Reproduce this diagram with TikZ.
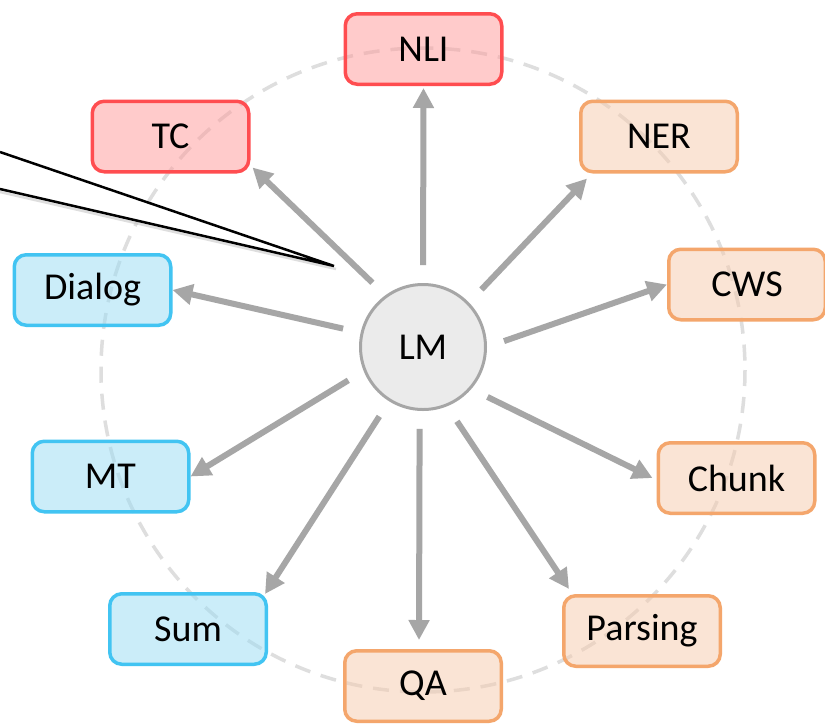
\documentclass[tikz,border=0pt]{standalone}
\usepackage{fontspec}
\setmainfont{Carlito}
\usetikzlibrary{arrows.meta,calc}
\definecolor{redfill}{RGB}{255,153,153}
\definecolor{reddraw}{RGB}{255,77,80}
\definecolor{orfill}{RGB}{247,203,173}
\definecolor{ordraw}{RGB}{244,166,108}
\definecolor{blfill}{RGB}{153,221,245}
\definecolor{bldraw}{RGB}{66,196,242}
\definecolor{arrgray}{RGB}{166,166,166}
\definecolor{lmfill}{RGB}{235,235,235}
\definecolor{ringgray}{RGB}{222,222,222}
\begin{document}
\begin{tikzpicture}[x=1pt,y=-1pt,
  box/.style={draw, line width=3.5pt, rounded corners=12pt, minimum width=156.5pt,
    minimum height=70.5pt, fill opacity=0.5, text opacity=1, inner sep=0pt,
    font=\fontsize{38}{42}\selectfont},
  redbox/.style={box, draw=reddraw, fill=redfill},
  orbox/.style={box, draw=ordraw, fill=orfill},
  blbox/.style={box, draw=bldraw, fill=blfill},
  arr/.style={draw=arrgray, line width=6pt, shorten <=18pt,
    -{Triangle[length=20pt,width=20pt]}, fill=arrgray},
  ring/.style={draw=ringgray, line width=3.5pt, dash pattern=on 16pt off 11pt}
]
\useasboundingbox (0,0) rectangle (825,724);
\fill[white] (0,0) rectangle (825,724);

% dashed ring
\coordinate (ringc) at (423,370);
\draw[ring] (ringc) circle[radius=322];

% task boxes
\node[redbox] (nli) at (423.5,49) {NLI};
\node[redbox] (tc) at (170.5,136.5) {TC};
\node[orbox] (ner) at (659,136.5) {NER};
\node[orbox] (cws) at (747,284.5) {CWS};
\node[orbox] (chunk) at (736.5,478) {Chunk};
\node[orbox] (parsing) at (642,631) {Parsing};
\node[orbox] (qa) at (423,686) {QA};
\node[blbox] (dialog) at (92.5,290) {Dialog};
\node[blbox] (mt) at (110.5,476.5) {MT};
\node[blbox] (sum) at (188,629) {Sum};

% center
\node[circle, draw=arrgray, fill=lmfill, line width=3pt, minimum size=125pt,
  inner sep=0pt, font=\fontsize{38}{42}\selectfont] (lm) at (423,347) {LM};

% arrows
\draw[arr] (lm.90) -- ($(nli.south)+(0,2)$);
\draw[arr] (lm.44) -- ($(ner.south west)+(8,5)$);
\draw[arr] (lm.0) -- (cws.west);
\draw[arr] (lm.-41.6) -- ($(chunk.west)+(-4,0)$);
\draw[arr] (lm.-68) -- ($(parsing.north west)+(7,-5)$);
\draw[arr] (lm.-93) -- ($(qa.north)+(-4,-9)$);
\draw[arr] (lm.-122.7) -- ($(sum.north east)+(-3,2)$);
\draw[arr] (lm.202.3) -- (mt.east);
\draw[arr] (lm.167.3) -- (dialog.east);
\draw[arr] (lm.126.7) -- ($(tc.south east)+(2,-6)$);

% callout
\coordinate (ca) at (0,152);
\coordinate (cb) at (0,189);
\coordinate (tip) at (334,266);
\draw[black!25, line width=2.5pt, opacity=0.5] ($(cb)+(0,3)$) -- ($(tip)+(2,3)$);
\filldraw[fill=white, draw=black, line width=2.5pt, line join=miter] (ca) -- (tip) -- (cb);
\end{tikzpicture}
\end{document}
